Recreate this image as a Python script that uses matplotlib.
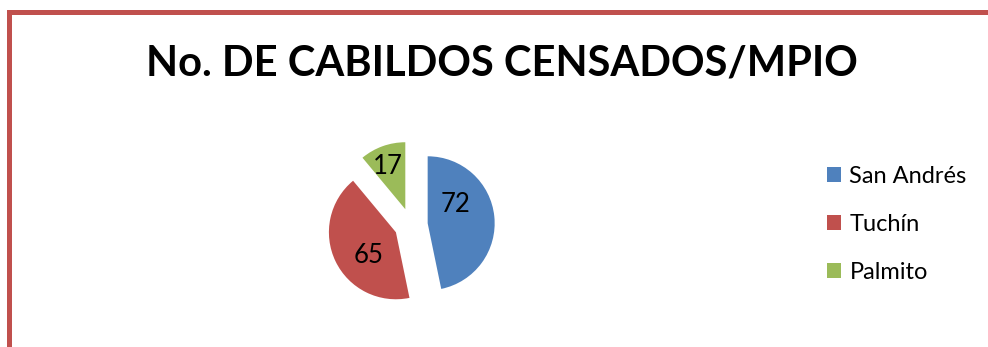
import matplotlib
matplotlib.use("Agg")
import matplotlib.pyplot as plt
from matplotlib.patches import Rectangle

# Census data: number of cabildos per municipality
municipios = ["San Andrés", "Tuchín", "Palmito"]
cabildos = [72, 65, 17]
colores = ["#4F81BD", "#C0504D", "#9BBB59"]
titulo = "No. DE CABILDOS CENSADOS/MPIO"

W, H = 988, 347
DPI = 100
fig = plt.figure(figsize=(W / DPI, H / DPI), dpi=DPI)
fig.patch.set_facecolor("white")
plt.rcParams["font.family"] = ["Lato", "DejaVu Sans"]

# Chart frame (runs past the right and bottom edges)
frame = Rectangle((8.5 / W, -0.2), 1.2, (H - 12) / H + 0.2, transform=fig.transFigure,
                  fill=False, edgecolor="#C0504D", linewidth=3.6, clip_on=False)
fig.add_artist(frame)

fig.text(502 / W, 1 - 63 / H, titulo, ha="center", va="center",
         fontsize=30, fontweight="bold", color="black")

# Pie axes: center at (411, 225) px, radius 67 px, limits +-1.5
cx, cy, r = 411, 225, 67
half = 1.5 * r
ax = fig.add_axes([(cx - half) / W, (H - cy - half) / H, 2 * half / W, 2 * half / H])
ax.set_aspect("equal")
ax.axis("off")

wedges, texts, autotexts = ax.pie(
    cabildos, colors=colores, startangle=90, counterclock=False,
    explode=[0.25] * len(cabildos), radius=1.0,
    autopct=lambda p: f"{round(p * sum(cabildos) / 100):d}",
    wedgeprops=dict(linewidth=0), textprops=dict(fontsize=18.5, color="black"))
ax.set_xlim(-1.5, 1.5)
ax.set_ylim(-1.5, 1.5)

label_pos = [(0.66, 0.30), (-0.63, -0.45), (-0.34, 0.87)]
for t, pos in zip(autotexts, label_pos):
    t.set_position(pos)
    t.set_ha("center")
    t.set_va("center")

fig.legend(wedges, municipios, loc="upper left",
           bbox_to_anchor=(827 / W, 1 - 166 / H), frameon=False,
           fontsize=17, handlelength=0.6, handleheight=0.6,
           handletextpad=0.35, labelspacing=1.14, borderpad=0, borderaxespad=0)

fig.savefig("out.png", dpi=DPI, facecolor="white")
